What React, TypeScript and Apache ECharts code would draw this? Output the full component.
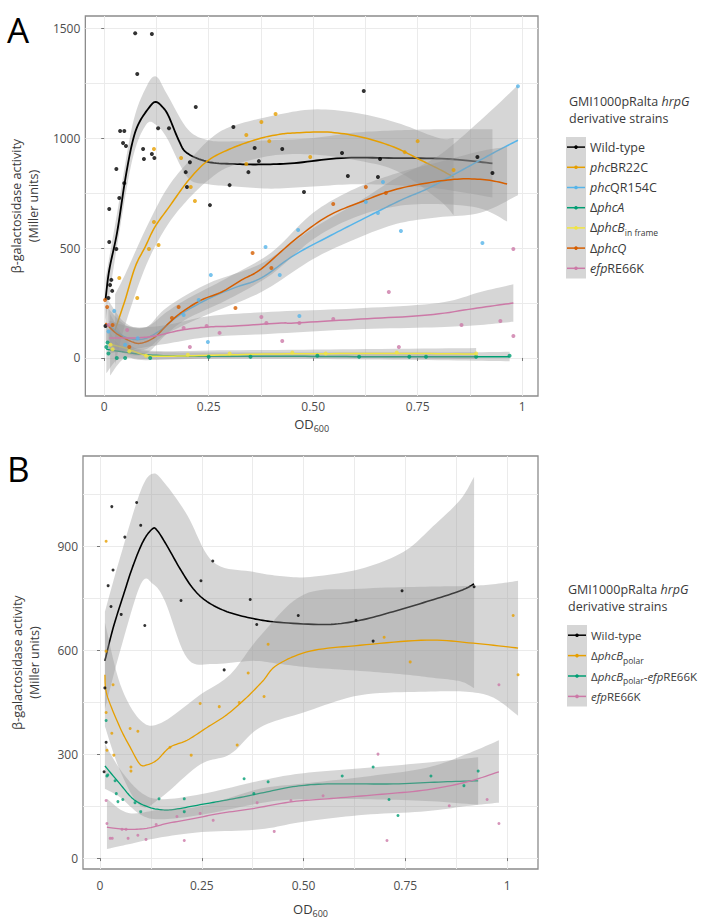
import React, { useEffect, useRef } from "react";
import * as echarts from "echarts";

const FONT = '"Open Sans", "Noto Sans", sans-serif';

// ---------- axes ----------
const A_X_TICKS = [0, 0.25, 0.5, 0.75, 1];
const A_X_GRID = [0, 0.125, 0.25, 0.375, 0.5, 0.625, 0.75, 0.875, 1];
const A_Y_TICKS = [0, 500, 1000, 1500];
const A_Y_GRID = [0, 250, 500, 750, 1000, 1250, 1500];
const B_X_TICKS = [0, 0.25, 0.5, 0.75, 1];
const B_X_GRID = [0, 0.125, 0.25, 0.375, 0.5, 0.625, 0.75, 0.875, 1];
const B_Y_TICKS = [0, 300, 600, 900];
const B_Y_GRID = [0, 150, 300, 450, 600, 750, 900, 1050];

// ---------- panel A : points, fits, confidence bands [x, lo, hi] ----------
const A_WT_PTS = [[0.003,145],[0.01,273],[0.012,527],[0.012,677],[0.014,332],[0.017,355],[0.019,305],[0.029,495],[0.029,859],[0.036,727],[0.038,1032],[0.045,977],[0.048,795],[0.048,1032],[0.052,964],[0.074,1477],[0.079,1291],[0.093,950],[0.095,905],[0.114,1473],[0.114,927],[0.12,909],[0.129,1045],[0.155,1045],[0.195,845],[0.198,777],[0.205,890],[0.219,1141],[0.253,695],[0.30,786],[0.309,1050],[0.345,845],[0.36,955],[0.37,895],[0.426,950],[0.478,755],[0.569,932],[0.583,827],[0.621,1214],[0.655,823],[0.66,905],[0.893,914],[0.929,841]];
const A_WT_FIT = [[0.003,264],[0.012,400],[0.031,573],[0.05,809],[0.067,977],[0.083,1068],[0.11,1145],[0.124,1164],[0.14,1140],[0.154,1100],[0.178,991],[0.198,932],[0.25,891],[0.313,882],[0.376,880],[0.455,886],[0.567,909],[0.693,909],[0.82,905],[0.929,885]];
const A_WT_BAND = [[0.003,170,360],[0.03,500,650],[0.067,900,1055],[0.1,1060,1230],[0.124,1060,1280],[0.15,1000,1200],[0.2,820,1040],[0.25,790,990],[0.313,780,985],[0.4,770,990],[0.5,780,1000],[0.6,790,1025],[0.7,785,1035],[0.8,770,1040],[0.929,730,1040]];

const A_BR_PTS = [[0.036,364],[0.079,273],[0.107,495],[0.119,950],[0.119,618],[0.13,514],[0.184,909],[0.207,777],[0.217,714],[0.34,1014],[0.34,882],[0.376,1073],[0.395,986],[0.41,1109],[0.493,914],[0.719,936],[0.75,986],[0.836,855]];
const A_BR_FIT = [[0.026,127],[0.05,264],[0.074,414],[0.098,505],[0.121,595],[0.155,686],[0.202,809],[0.25,900],[0.312,959],[0.376,1000],[0.424,1018],[0.455,1023],[0.535,1027],[0.614,1005],[0.693,959],[0.757,900],[0.805,855],[0.836,823]];
const A_BR_BAND = [[0.026,-30,290],[0.05,150,380],[0.1,420,590],[0.15,600,770],[0.2,720,890],[0.25,810,990],[0.3,870,1050],[0.4,920,1100],[0.5,925,1130],[0.6,900,1115],[0.7,850,1070],[0.8,720,1000],[0.836,650,1000]];

const A_QR_PTS = [[0.01,120],[0.024,214],[0.05,60],[0.08,90],[0.19,195],[0.226,264],[0.248,73],[0.255,377],[0.386,505],[0.42,377],[0.464,582],[0.467,191],[0.626,709],[0.655,659],[0.667,800],[0.71,577],[0.905,523],[0.99,1236]];
const A_QR_FIT = [[0.01,150],[0.05,95],[0.09,85],[0.13,120],[0.18,195],[0.25,270],[0.313,320],[0.376,364],[0.455,468],[0.535,550],[0.614,627],[0.71,718],[0.774,770],[0.852,850],[0.931,932],[0.99,990]];
const A_QR_BAND = [[0.01,40,260],[0.05,30,160],[0.1,40,140],[0.15,110,230],[0.25,200,340],[0.376,300,430],[0.5,450,590],[0.6,540,700],[0.7,610,820],[0.8,640,920],[0.9,660,1080],[0.99,740,1240]];

const A_PA_PTS = [[0.005,50],[0.008,70],[0.01,20],[0.03,0],[0.05,0],[0.11,0],[0.25,5],[0.35,5],[0.51,10],[0.61,5],[0.73,5],[0.77,5],[0.89,5],[0.97,10]];
const A_PA_FIT = [[0.005,40],[0.03,32],[0.1,15],[0.2,8],[0.4,8],[0.6,6],[0.8,6],[0.97,6]];
const A_PA_BAND = [[0.005,-70,150],[0.03,-10,70],[0.06,0,45],[0.1,-5,30],[0.2,-5,25],[0.5,-5,25],[0.8,-10,25],[0.97,-15,28]];

const A_PB_PTS = [[0.015,60],[0.02,40],[0.06,30],[0.1,10],[0.2,15],[0.3,20],[0.45,25],[0.53,20],[0.7,25],[0.89,20]];
const A_PB_FIT = [[0.014,62],[0.05,45],[0.1,12],[0.15,8],[0.25,12],[0.4,18],[0.6,20],[0.75,20],[0.89,18]];
const A_PB_BAND = [[0.014,-80,200],[0.05,0,90],[0.1,-10,35],[0.3,0,35],[0.6,0,40],[0.89,-5,45]];

const A_PQ_PTS = [[0.002,264],[0.007,232],[0.02,150],[0.06,50],[0.162,182],[0.178,232],[0.314,227],[0.355,477],[0.40,409],[0.548,700],[0.626,777],[0.674,750]];
const A_PQ_FIT = [[0.003,159],[0.03,110],[0.067,73],[0.09,68],[0.121,95],[0.155,159],[0.186,209],[0.233,264],[0.281,300],[0.329,355],[0.376,405],[0.455,536],[0.535,645],[0.614,709],[0.693,764],[0.774,796],[0.852,814],[0.917,809],[0.964,791]];
const A_PQ_BAND = [[0.003,80,240],[0.05,20,150],[0.1,20,140],[0.15,110,210],[0.2,180,270],[0.3,270,370],[0.4,380,480],[0.5,540,660],[0.6,640,770],[0.7,690,840],[0.8,700,890],[0.9,680,940],[0.964,620,960]];

const A_EF_PTS = [[0.01,150],[0.055,127],[0.19,136],[0.205,50],[0.245,145],[0.276,114],[0.376,186],[0.388,159],[0.426,77],[0.467,159],[0.548,177],[0.681,300],[0.705,50],[0.855,150],[0.948,168],[0.979,495],[0.979,100]];
const A_EF_FIT = [[0.012,91],[0.074,91],[0.121,100],[0.186,127],[0.25,141],[0.312,145],[0.424,159],[0.455,159],[0.614,177],[0.774,195],[0.893,227],[0.979,250]];
const A_EF_BAND = [[0.012,20,170],[0.07,40,140],[0.15,65,150],[0.25,95,190],[0.4,110,210],[0.6,130,225],[0.8,140,250],[0.9,150,300],[0.979,165,335]];

// ---------- panel B ----------
const B_WT_PTS = [[0.01,249],[0.012,491],[0.015,334],[0.02,786],[0.027,726],[0.029,1014],[0.032,831],[0.052,703],[0.061,926],[0.09,1026],[0.1,960],[0.11,671],[0.199,743],[0.248,800],[0.277,857],[0.305,543],[0.369,746],[0.385,674],[0.487,700],[0.629,686],[0.671,626],[0.742,771],[0.919,783]];
const B_WT_FIT = [[0.012,569],[0.032,663],[0.057,757],[0.081,843],[0.106,914],[0.128,949],[0.14,946],[0.165,900],[0.197,834],[0.229,777],[0.263,740],[0.312,711],[0.376,691],[0.442,680],[0.558,674],[0.639,686],[0.72,711],[0.803,740],[0.885,771],[0.919,791]];
const B_WT_BAND = [[0.012,430,711],[0.05,600,870],[0.1,790,1060],[0.13,791,1109],[0.16,740,1080],[0.214,577,990],[0.278,560,854],[0.376,569,826],[0.442,560,814],[0.516,550,811],[0.639,540,834],[0.745,530,883],[0.818,520,957],[0.885,510,1034],[0.919,490,1100]];

const B_PO_PTS = [[0.015,914],[0.015,597],[0.015,420],[0.017,311],[0.029,360],[0.032,500],[0.034,297],[0.074,374],[0.076,263],[0.076,251],[0.093,366],[0.172,320],[0.224,297],[0.246,446],[0.293,437],[0.337,326],[0.342,449],[0.364,534],[0.403,466],[0.413,617],[0.698,637],[0.762,566],[1.015,700],[1.027,529]];
const B_PO_FIT = [[0.012,529],[0.017,471],[0.049,377],[0.074,320],[0.098,271],[0.115,269],[0.14,283],[0.172,320],[0.214,340],[0.263,377],[0.312,414],[0.36,463],[0.40,511],[0.435,557],[0.516,597],[0.639,614],[0.803,629],[0.917,620],[1.027,606]];
const B_PO_BAND = [[0.012,380,680],[0.05,250,500],[0.1,150,397],[0.15,175,390],[0.246,270,471],[0.32,300,530],[0.393,377,640],[0.5,420,760],[0.639,470,777],[0.8,480,783],[0.9,480,785],[0.966,463,790],[1.027,411,800]];

const B_PE_PTS = [[0.015,397],[0.017,237],[0.019,240],[0.037,223],[0.04,186],[0.044,163],[0.056,169],[0.086,160],[0.1,134],[0.145,171],[0.207,171],[0.207,134],[0.354,229],[0.378,186],[0.413,220],[0.595,237],[0.671,263],[0.71,169],[0.732,123],[0.813,237],[0.894,209],[0.929,251]];
const B_PE_FIT = [[0.012,266],[0.049,214],[0.081,171],[0.115,149],[0.147,140],[0.179,140],[0.246,154],[0.327,171],[0.41,191],[0.474,206],[0.558,214],[0.72,214],[0.843,220],[0.929,223]];
const B_PE_BAND = [[0.012,200,330],[0.05,175,255],[0.1,125,190],[0.15,112,170],[0.25,125,185],[0.4,160,225],[0.5,170,245],[0.65,170,260],[0.8,165,275],[0.929,154,291]];

const B_EF_PTS = [[0.015,166],[0.017,100],[0.025,57],[0.03,57],[0.054,83],[0.064,83],[0.069,57],[0.093,66],[0.113,54],[0.138,97],[0.189,120],[0.207,51],[0.246,129],[0.278,109],[0.386,160],[0.428,77],[0.469,166],[0.548,180],[0.683,300],[0.705,51],[0.858,151],[0.951,169],[0.98,100],[0.98,500]];
const B_EF_FIT = [[0.017,89],[0.066,83],[0.115,86],[0.165,100],[0.229,114],[0.295,129],[0.376,143],[0.474,163],[0.558,171],[0.68,183],[0.803,197],[0.902,220],[0.98,249]];
const B_EF_BAND = [[0.017,26,171],[0.07,40,130],[0.15,60,140],[0.25,75,150],[0.393,83,200],[0.5,105,215],[0.65,125,235],[0.8,135,260],[0.9,150,300],[0.98,160,340]];

// ---------- legends ----------
const LEGEND_TITLE = "GMI1000pRalta {i|hrpG}\nderivative strains";
const A_LEGEND = ["Wild-type", "{i|phc}BR22C", "{i|phc}QR154C", "Δ{i|phcA}", "Δ{i|phcB}{s|in frame}", "Δ{i|phcQ}", "{i|efp}RE66K"];
const B_LEGEND = ["Wild-type", "Δ{i|phcB}{s|polar}", "Δ{i|phcB}{s|polar}-{i|efp}RE66K", "{i|efp}RE66K"];

const C_BLACK = "#000000";
const C_ORANGE = "#E69F00";
const C_SKY = "#56B4E9";
const C_GREEN = "#009E73";
const C_YELLOW = "#F0E442";
const C_VERM = "#D55E00";
const C_PINK = "#CC79A7";

const A_GROUPS = [
  { name: "Wild-type", color: C_BLACK, pts: A_WT_PTS, fit: A_WT_FIT, band: A_WT_BAND },
  { name: "phcBR22C", color: C_ORANGE, pts: A_BR_PTS, fit: A_BR_FIT, band: A_BR_BAND },
  { name: "phcQR154C", color: C_SKY, pts: A_QR_PTS, fit: A_QR_FIT, band: A_QR_BAND },
  { name: "ΔphcA", color: C_GREEN, pts: A_PA_PTS, fit: A_PA_FIT, band: A_PA_BAND },
  { name: "ΔphcB in frame", color: C_YELLOW, pts: A_PB_PTS, fit: A_PB_FIT, band: A_PB_BAND },
  { name: "ΔphcQ", color: C_VERM, pts: A_PQ_PTS, fit: A_PQ_FIT, band: A_PQ_BAND },
  { name: "efpRE66K", color: C_PINK, pts: A_EF_PTS, fit: A_EF_FIT, band: A_EF_BAND },
];
const B_GROUPS = [
  { name: "Wild-type", color: C_BLACK, pts: B_WT_PTS, fit: B_WT_FIT, band: B_WT_BAND },
  { name: "ΔphcBpolar", color: C_ORANGE, pts: B_PO_PTS, fit: B_PO_FIT, band: B_PO_BAND },
  { name: "ΔphcBpolar-efpRE66K", color: C_GREEN, pts: B_PE_PTS, fit: B_PE_FIT, band: B_PE_BAND },
  { name: "efpRE66K", color: C_PINK, pts: B_EF_PTS, fit: B_EF_FIT, band: B_EF_BAND },
];

function catmull(p: number[][], seg = 10) {
  const out: number[][] = [];
  for (let i = 0; i < p.length - 1; i++) {
    const p0 = p[Math.max(0, i - 1)], p1 = p[i], p2 = p[i + 1], p3 = p[Math.min(p.length - 1, i + 2)];
    for (let k = 0; k < seg; k++) {
      const s = k / seg, s2 = s * s, s3 = s2 * s;
      const f = (j: number) =>
        0.5 * (2 * p1[j] + (-p0[j] + p2[j]) * s + (2 * p0[j] - 5 * p1[j] + 4 * p2[j] - p3[j]) * s2 + (-p0[j] + 3 * p1[j] - 3 * p2[j] + p3[j]) * s3);
      out.push([f(0), f(1)]);
    }
  }
  out.push(p[p.length - 1]);
  return out;
}

function bandSeries(id: string, band: number[][], axis: number) {
  return {
    type: "custom",
    name: id + " band",
    xAxisIndex: axis * 2,
    yAxisIndex: axis * 2,
    silent: true,
    clip: true,
    data: band,
    encode: { x: 0, y: [1, 2] },
    renderItem: (params: any, api: any) => {
      if (params.dataIndex !== 0) return null;
      const up = band.map((r) => api.coord([r[0], r[2]]));
      const lo = band.map((r) => api.coord([r[0], r[1]]));
      const pts = catmull(up).concat(catmull(lo).reverse());
      return {
        type: "polygon",
        shape: { points: pts },
        style: { fill: "rgba(153,153,153,0.4)", stroke: "none" },
      };
    },
  };
}

function fitSeries(id: string, fit: number[][], axis: number, color: string, lw: number) {
  return {
    type: "custom",
    name: id + " fit",
    xAxisIndex: axis * 2,
    yAxisIndex: axis * 2,
    silent: true,
    clip: true,
    data: fit,
    encode: { x: 0, y: 1 },
    renderItem: (params: any, api: any) => {
      if (params.dataIndex !== 0) return null;
      const pts = catmull(fit.map((r) => api.coord([r[0], r[1]])));
      return {
        type: "polyline",
        shape: { points: pts },
        style: { stroke: color, lineWidth: lw, fill: "none", lineJoin: "round" },
      };
    },
  };
}

function groupSeries(groups: any[], axis: number, symSize: number, lw: number) {
  const pre = axis ? "B " : "A ";
  const pts = groups.map((g) => ({
    type: "scatter",
    name: pre + g.name + " pts",
    xAxisIndex: axis * 2,
    yAxisIndex: axis * 2,
    data: g.pts,
    symbol: "circle",
    symbolSize: symSize,
    itemStyle: { color: g.color },
    silent: true,
  }));
  const rest: any[] = [];
  groups.forEach((g) => {
    rest.push(bandSeries(pre + g.name, g.band, axis));
    rest.push(fitSeries(pre + g.name, g.fit, axis, g.color, g.color === C_BLACK ? lw + 0.3 : lw));
  });
  return pts.concat(rest);
}

const TICK_COLOR = "#4d4d4d";
const TEXT_COLOR = "#3a3a3a";

function axesFor(gridIndex: number, xr: number[], yr: number[], xTicks: number[], xGrid: number[], yTicks: number[], yGrid: number[], xLabelMargin: number, xNameGap: number) {
  const xData = {
    type: "value", gridIndex, min: xr[0], max: xr[1],
    axisLine: { show: false }, axisLabel: { show: false },
    axisTick: { show: false, customValues: xGrid },
    splitLine: { show: true, lineStyle: { color: "#ebebeb", width: 1 } },
  };
  const xLab = {
    type: "value", gridIndex, min: xr[0], max: xr[1], position: "bottom", offset: 0,
    axisLine: { show: false },
    splitLine: { show: false },
    axisTick: { show: true, customValues: xTicks, length: 3, lineStyle: { color: "#777" } },
    axisLabel: {
      show: true, customValues: xTicks, margin: xLabelMargin, color: TICK_COLOR, fontSize: 12, fontFamily: FONT,
      formatter: (v: number) => (v === 0 ? "0" : v === 1 ? "1" : v.toFixed(2)),
    },
    name: "OD{s|600}",
    nameLocation: "middle",
    nameGap: xNameGap,
    nameTextStyle: {
      color: TEXT_COLOR, fontSize: 13, fontFamily: FONT,
      rich: { s: { fontSize: 9, fontFamily: FONT, color: TEXT_COLOR, verticalAlign: "bottom", lineHeight: 18, padding: [7, 0, 0, 0] } },
    },
  };
  const yData = {
    type: "value", gridIndex, min: yr[0], max: yr[1],
    axisLine: { show: false }, axisLabel: { show: false },
    axisTick: { show: false, customValues: yGrid },
    splitLine: { show: true, lineStyle: { color: "#ebebeb", width: 1 } },
  };
  const yLab = {
    type: "value", gridIndex, min: yr[0], max: yr[1], position: "left", offset: 0,
    axisLine: { show: false },
    splitLine: { show: false },
    axisTick: { show: true, customValues: yTicks, length: 3, lineStyle: { color: "#777" } },
    axisLabel: {
      show: true, customValues: yTicks, margin: 5, color: TICK_COLOR, fontSize: 12, fontFamily: FONT,
      formatter: (v: number) => String(v),
    },
    name: "β-galactosidase activity\n(Miller units)",
    nameLocation: "middle",
    nameRotate: 90,
    nameGap: 40,
    nameTextStyle: { color: TEXT_COLOR, fontSize: 12.5, fontFamily: FONT, lineHeight: 17 },
  };
  return { x: [xData, xLab], y: [yData, yLab] };
}

function legendGraphics(titleX: number, titleY: number, keyX: number, keyTop: number, rowH: number, textX: number, labels: string[], colors: string[], fs: number) {
  const els: any[] = [];
  els.push({
    type: "text", x: titleX, y: titleY, z: 100,
    style: {
      text: LEGEND_TITLE, fill: TEXT_COLOR, fontSize: 12.5, fontFamily: FONT, lineHeight: 17,
      rich: { i: { fontStyle: "italic", fontSize: 12.5, fontFamily: FONT, fill: TEXT_COLOR } },
    },
  });
  els.push({
    type: "rect", z: 100,
    shape: { x: keyX, y: keyTop, width: 20, height: rowH * labels.length },
    style: { fill: "#d6d6d6" },
  });
  labels.forEach((lab, i) => {
    const cy = keyTop + rowH * (i + 0.5);
    els.push({ type: "line", z: 101, shape: { x1: keyX + 1, y1: cy, x2: keyX + 19, y2: cy }, style: { stroke: colors[i], lineWidth: 1.5 } });
    els.push({ type: "circle", z: 101, shape: { cx: keyX + 10, cy, r: 1.8 }, style: { fill: colors[i] } });
    els.push({
      type: "text", z: 101, x: textX, y: cy,
      style: {
        text: lab, fill: TEXT_COLOR, fontSize: fs, fontFamily: FONT, verticalAlign: "middle", lineHeight: 18,
        rich: {
          i: { fontStyle: "italic", fontSize: fs, fontFamily: FONT, fill: TEXT_COLOR, lineHeight: 18 },
          s: { fontSize: 8.5, fontFamily: FONT, fill: TEXT_COLOR, lineHeight: 18, verticalAlign: "bottom", padding: [6, 0, 0, 0] },
        },
      },
    });
  });
  return els;
}

export default function App() {
  const ref = useRef<HTMLDivElement>(null);
  useEffect(() => {
    if (!ref.current) return;
    const chart = echarts.init(ref.current, null, { renderer: "svg" });
    const aAx = axesFor(0, [-0.0452, 1.038], [-173, 1555], A_X_TICKS, A_X_GRID, A_Y_TICKS, A_Y_GRID, 4, 19);
    const bAx = axesFor(1, [-0.0418, 1.076], [-31.4, 1160], B_X_TICKS, B_X_GRID, B_Y_TICKS, B_Y_GRID, 10, 31);
    const option: any = {
      animation: false,
      backgroundColor: "#ffffff",
      textStyle: { fontFamily: FONT },
      grid: [
        { left: 83, top: 16, width: 455, height: 380, show: true, borderColor: "#8c8c8c", borderWidth: 1.3, backgroundColor: "transparent" },
        { left: 83, top: 456, width: 455, height: 417, show: true, borderColor: "#8c8c8c", borderWidth: 1.3, backgroundColor: "transparent" },
      ],
      xAxis: [...aAx.x, ...bAx.x],
      yAxis: [...aAx.y, ...bAx.y],
      series: [...groupSeries(A_GROUPS, 0, 4, 1.5), ...groupSeries(B_GROUPS, 1, 3, 1.3)],
      graphic: [
        { type: "text", x: 7, y: 29, style: { text: "A", fontSize: 35, fontFamily: FONT, fill: "#000", verticalAlign: "middle" } },
        { type: "text", x: 7, y: 468, style: { text: "B", fontSize: 35, fontFamily: FONT, fill: "#000", verticalAlign: "middle" } },
        ...legendGraphics(569, 93, 566, 137, 20.2, 590, A_LEGEND, A_GROUPS.map((g) => g.color), 12.5),
        ...legendGraphics(568, 581, 567, 625, 20.4, 591, B_LEGEND, B_GROUPS.map((g) => g.color), 11.5),
      ],
    };
    chart.setOption(option);
    return () => chart.dispose();
  }, []);
  return <div ref={ref} style={{ width: 703, height: 919, position: "absolute", left: 0, top: 0 }} />;
}
